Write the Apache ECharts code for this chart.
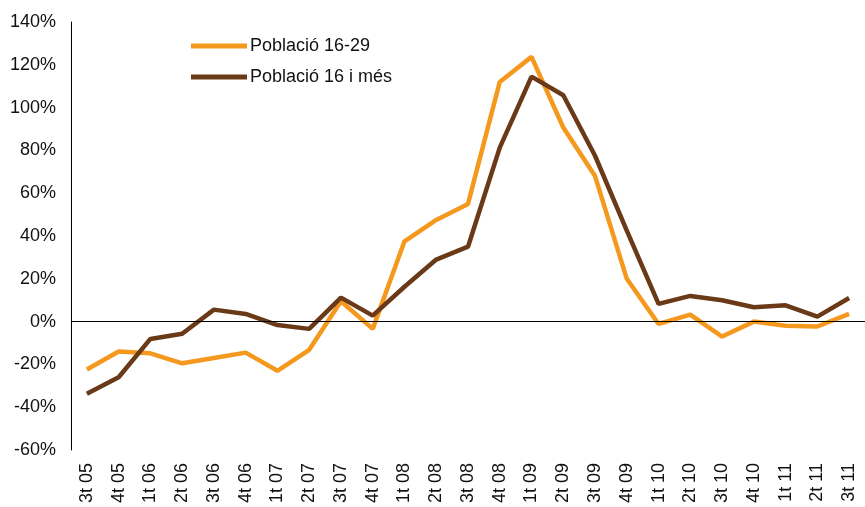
<!DOCTYPE html>
<html>
<head>
<meta charset="utf-8">
<script src="https://cdn.jsdelivr.net/npm/echarts@6/dist/echarts.min.js"></script>
<style>
  html, body { margin: 0; padding: 0; background: #fff; }
  #chart { width: 865px; height: 507px; }
</style>
</head>
<body>
<div id="chart"></div>
<script>
const categories = ['3t 05', '4t 05', '1t 06', '2t 06', '3t 06', '4t 06', '1t 07', '2t 07', '3t 07', '4t 07',
  '1t 08', '2t 08', '3t 08', '4t 08', '1t 09', '2t 09', '3t 09', '4t 09', '1t 10', '2t 10',
  '3t 10', '4t 10', '1t 11', '2t 11', '3t 11']

const poblacio1629 = [-22.4, -14, -14.8, -19.5, -17, -14.5, -23, -13.2, 9.5, -3.4,
  37.5, 47.5, 55, 112, 123.7, 90.7, 68, 20, -1.1, 3.3,
  -7, 0, -1.9, -2.3, 3.6]

const poblacio16mes = [-33.7, -26, -8.1, -5.7, 5.6, 3.6, -1.6, -3.4, 11.2, 2.8,
  16.3, 29, 35, 81.3, 114.5, 105.8, 77.5, 42.5, 8.3, 12,
  10, 6.7, 7.6, 2.3, 11]

const names = ['Població 16-29', 'Població 16 i més']
const colors = ['#F4991E', '#6A3918']

const font = 'Arial, "Liberation Sans", sans-serif'

const chart = echarts.init(document.getElementById('chart'))

chart.setOption({
  animation: false,
  color: colors,
  grid: {
    left: 71,
    right: -10,
    top: 22,
    bottom: 57
  },
  legend: {
    orient: 'vertical',
    left: 186,
    top: 32,
    icon: 'rect',
    itemWidth: 56,
    itemHeight: 5,
    itemGap: 13,
    textStyle: { fontFamily: font, fontSize: 18, color: '#111', padding: [0, 0, 0, -2] },
    data: names
  },
  xAxis: {
    type: 'category',
    data: categories,
    boundaryGap: true,
    axisLine: { show: false, onZero: false },
    axisTick: { show: false },
    axisLabel: {
      rotate: 90,
      margin: 13,
      interval: 0,
      fontFamily: font,
      fontSize: 18,
      color: '#111'
    }
  },
  yAxis: {
    type: 'value',
    min: -60,
    max: 140,
    interval: 20,
    splitLine: { show: false },
    axisTick: { show: false },
    axisLine: { show: true, lineStyle: { color: '#000', width: 1 } },
    axisLabel: {
      margin: 15,
      formatter: '{value}%',
      fontFamily: font,
      fontSize: 18,
      color: '#111'
    }
  },
  series: [
    {
      name: names[0],
      type: 'line',
      data: poblacio1629,
      symbol: 'none',
      lineStyle: { width: 4.5, color: colors[0] },
      z: 3,
      markLine: {
        silent: true,
        symbol: 'none',
        label: { show: false },
        lineStyle: { color: '#000', width: 1, type: 'solid' },
        data: [{ yAxis: 0 }]
      }
    },
    {
      name: names[1],
      type: 'line',
      data: poblacio16mes,
      symbol: 'none',
      lineStyle: { width: 4.5, color: colors[1] },
      z: 4
    }
  ]
})
</script>
</body>
</html>
